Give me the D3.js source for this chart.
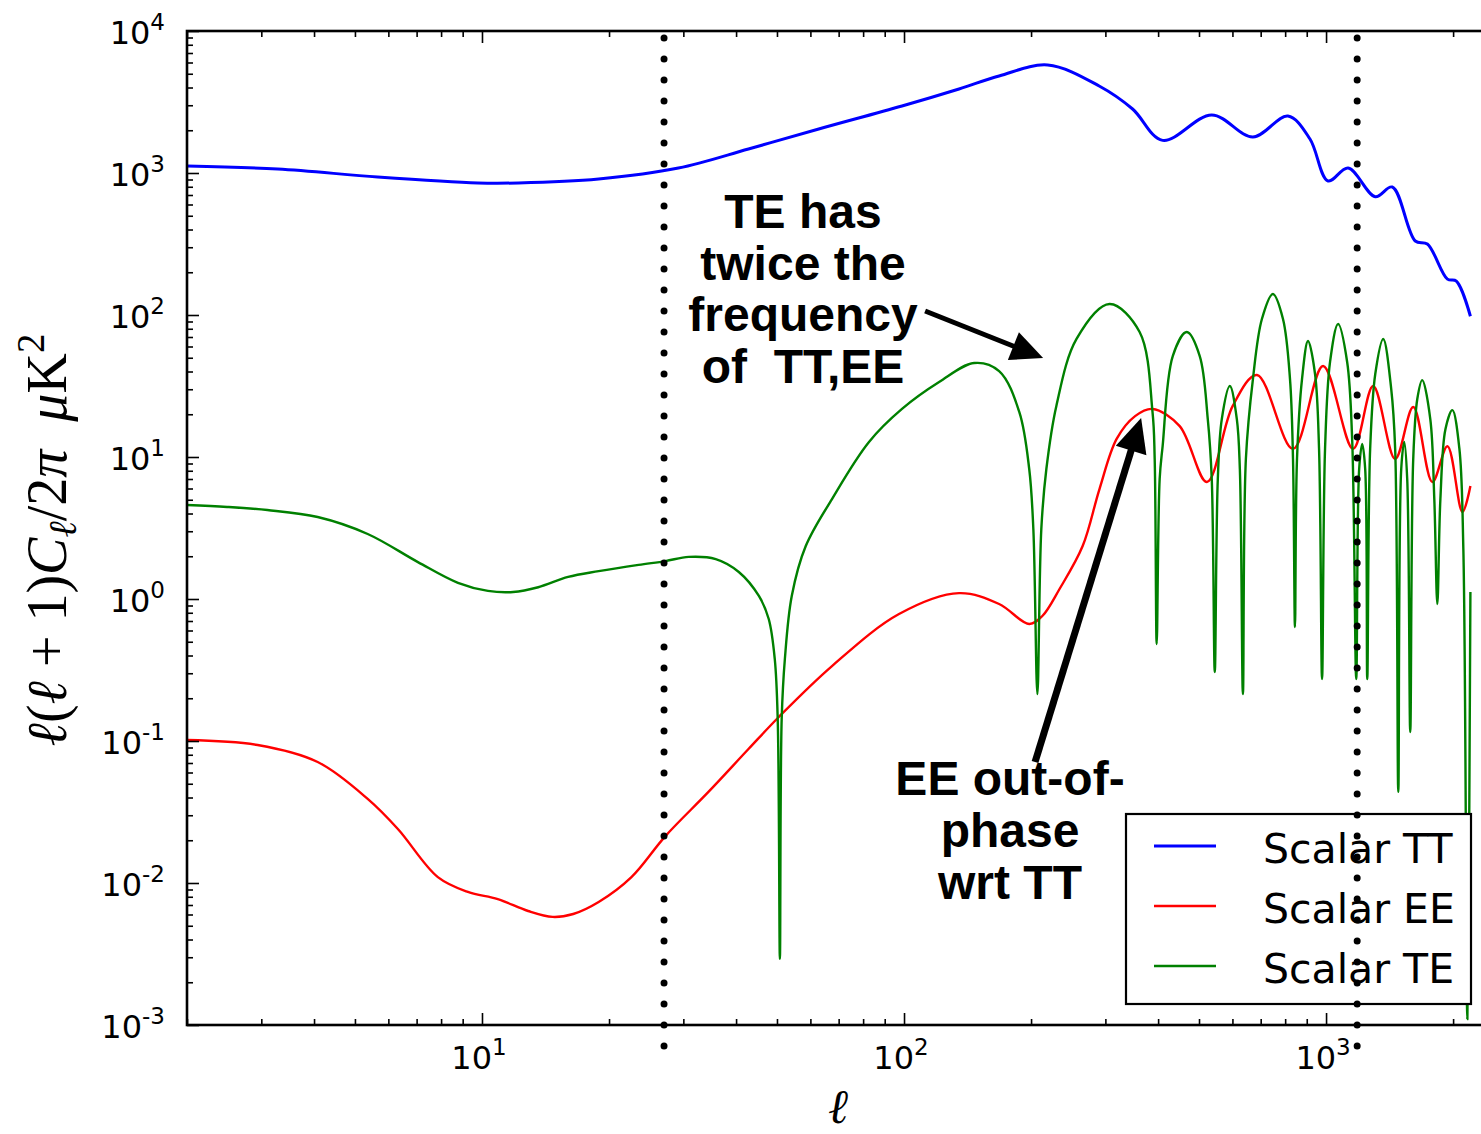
<!DOCTYPE html>
<html>
<head>
<meta charset="utf-8">
<script src="https://cdn.jsdelivr.net/npm/d3@7"></script>
<style>
  body { margin: 0; background: #ffffff; }
  svg { display: block; }
</style>
</head>
<body>
<svg id="chart" width="1481" height="1134"></svg>
<script>
// Scalar CMB angular power spectra, l(l+1)C_l/2pi in uK^2

// Temperature (TT)
const ttEll   = [2, 3.28, 5.66, 9.78, 12.2, 18.9, 29.2, 42.8, 62.8, 98.9, 135, 168, 219, 290, 348, 410, 536, 671, 812, 916, 1011, 1128, 1308, 1435, 1627, 1738, 1939, 2036, 2198];
const ttPower = [1120, 1067, 937, 851, 851, 907, 1083, 1476, 2042, 2965, 3907, 4820, 5763, 4100, 2823, 1697, 2561, 1793, 2519, 1735, 879, 1084, 681, 797, 332, 316, 179, 173, 98];

// E-mode polarisation (EE)
const eeEll   = [2, 2.94, 4.08, 5.36, 6.32, 7.86, 9.26, 10.9, 12.86, 14.7, 16.45, 18.9, 22.6, 27.2, 34.4, 42.8, 50.5, 67.5, 97.3, 135, 168, 198, 212.7, 233.6, 265, 290.5, 319, 352.8, 388, 450, 522, 601, 686, 835, 984, 1159, 1293, 1458, 1609, 1786, 1939, 2104, 2198];
const eePower = [0.1016, 0.0937, 0.0711, 0.0391, 0.0240, 0.0110, 0.00865, 0.0077, 0.00635, 0.00577, 0.00605, 0.00735, 0.0110, 0.0214, 0.0438, 0.0878, 0.1476, 0.337, 0.784, 1.10, 0.922, 0.667, 0.759, 1.176, 2.36, 5.95, 13.4, 19.4, 21.8, 16.5, 6.67, 22.9, 37.8, 11.4, 43.7, 11.4, 31.6, 9.68, 22.5, 6.67, 11.9, 4.10, 6.25];

// Temperature-polarisation cross spectrum (|TE|)
const teEll   = [2, 2.49, 3.10, 4.08, 5.36, 7.05, 8.77, 10.33, 11.85, 13.59,
                 16.0, 18.9, 23.5, 27.2, 30.9, 35.8, 40.6, 45.3, 47.8, 49.4,
                 50.2, 50.8, 51.3, 52.2, 54.2, 58.5, 67.5, 82.6, 98.9, 121.1,
                 146.6, 168, 187.6, 198, 202.5, 207, 211.5, 217.4, 229.6, 256.3,
                 306.9, 361.6, 388, 392.6, 396.9, 403.4, 410, 433.3, 467.7, 502,
                 524.5, 536, 544.9, 554, 566.2, 591.6, 614.6, 624.8, 635.3, 645.7,
                 671, 704.7, 748.4, 790.6, 821.4, 835, 844, 853.4, 877.1, 906.3,
                 941.7, 962.5, 978.4, 994.5, 1022, 1068, 1122, 1153, 1179, 1198,
                 1218, 1238, 1252, 1272, 1308, 1366, 1427, 1458, 1483, 1507,
                 1532, 1557, 1583, 1609, 1645, 1690, 1766, 1805, 1835, 1866,
                 1918, 1992, 2070, 2115, 2162, 2198];
const tePower = [4.59, 4.45, 4.23, 3.78, 2.87, 1.82, 1.30, 1.14, 1.12, 1.21,
                 1.43, 1.57, 1.74, 1.85, 1.98, 1.91, 1.55, 1.05, 0.723, 0.378,
                 0.143, 0.00292, 0.143, 0.378, 1.05, 2.36, 5.06, 12.76, 21.8, 33.7,
                 45.9, 40.3, 20.7, 8.23, 3.11, 0.214, 3.11, 8.23, 22.9, 67.8,
                 119.5, 75.9, 20.7, 9.68, 0.482, 7.0, 11.95, 51.4, 75.9, 51.4,
                 18.5, 7.0, 0.306, 7.0, 18.5, 31.6, 18.5, 8.23, 0.214, 9.68,
                 35.4, 93.7, 140.6, 93.7, 35.4, 9.68, 0.635, 9.68, 35.4, 65.6,
                 38.4, 11.4, 0.273, 11.4, 46.7, 86.4, 46.7, 13.4, 0.273, 8.23,
                 12.35, 8.23, 0.273, 11.4, 38.4, 67.8, 30.1, 11.4, 0.0438, 8.23,
                 12.76, 7.0, 0.1157, 9.68, 25.6, 34.8, 18.5, 5.06, 0.922, 5.06,
                 15.7, 21.4, 11.4, 2.25, 0.0011, 1.12];

const seriesNames  = ["Scalar TT", "Scalar EE", "Scalar TE"];
const seriesColors = ["#0000ff", "#ff0000", "#008000"];

// tick decades
const xTickExps = [1, 2, 3];
const yTickExps = [-3, -2, -1, 0, 1, 2, 3, 4];

// multipoles marked with dotted verticals
const markerEll = [27, 1185];

// annotation arrows: [l, power] start -> tip
const arrowFreq  = { from: [112.2, 106.7], to: [213.6, 49.8] };
const arrowPhase = { from: [204.4, 0.0711], to: [364.6, 18.8] };

const annFreqLines  = ["TE has", "twice the", "frequency", "of  TT,EE"];
const annPhaseLines = ["EE out-of-", "phase", "wrt TT"];

// ---------------------------------------------------------------
const svg = d3.select("#chart");
const plotL = 187, plotR = 1494, plotT = 31, plotB = 1025;

const x = d3.scaleLog().domain([2, 2500]).range([plotL, plotR]);
const y = d3.scaleLog().domain([1e-3, 1e4]).range([plotB, plotT]);

svg.append("defs").append("clipPath").attr("id", "plotArea")
  .append("rect").attr("x", plotL).attr("y", plotT)
  .attr("width", plotR - plotL).attr("height", plotB - plotT);

const line = d3.line()
  .x(d => x(d[0]))
  .y(d => y(d[1]))
  .curve(d3.curveCatmullRom.alpha(0.5));

const series = [
  { ell: ttEll, p: ttPower, width: 3 },
  { ell: eeEll, p: eePower, width: 2.4 },
  { ell: teEll, p: tePower, width: 2.4 }
];

const curves = svg.append("g").attr("clip-path", "url(#plotArea)");
series.forEach((s, i) => {
  curves.append("path")
    .datum(s.ell.map((l, k) => [l, s.p[k]]))
    .attr("d", line)
    .attr("fill", "none")
    .attr("stroke", seriesColors[i])
    .attr("stroke-width", s.width)
    .attr("stroke-linejoin", "round");
});

// ---- ticks (inward, on all sides) ----
const xMajor = xTickExps.map(e => Math.pow(10, e));
const xMinor = [];
for (let e = 0; e <= 3; e++) for (let m = 2; m <= 9; m++) {
  const v = m * Math.pow(10, e);
  if (v >= 2 && v <= 2500) xMinor.push(v);
}
const yMajor = yTickExps.map(e => Math.pow(10, e));
const yMinor = [];
for (let e = -3; e <= 3; e++) for (let m = 2; m <= 9; m++) yMinor.push(m * Math.pow(10, e));

function tickGroup(axis, transform) {
  const g = svg.append("g").attr("transform", transform).call(axis);
  g.select(".domain").remove();
  g.selectAll(".tick line").attr("stroke", "#000").attr("stroke-width", 1.6);
  return g;
}
tickGroup(d3.axisBottom(x).tickValues(xMajor).tickSize(-12).tickFormat(""), `translate(0,${plotB})`);
tickGroup(d3.axisBottom(x).tickValues(xMinor).tickSize(-6).tickFormat(""), `translate(0,${plotB})`);
tickGroup(d3.axisTop(x).tickValues(xMajor).tickSize(-12).tickFormat(""), `translate(0,${plotT})`);
tickGroup(d3.axisTop(x).tickValues(xMinor).tickSize(-6).tickFormat(""), `translate(0,${plotT})`);
tickGroup(d3.axisLeft(y).tickValues(yMajor).tickSize(-12).tickFormat(""), `translate(${plotL},0)`);
tickGroup(d3.axisLeft(y).tickValues(yMinor).tickSize(-6).tickFormat(""), `translate(${plotL},0)`);

// frame
svg.append("rect")
  .attr("x", plotL).attr("y", plotT)
  .attr("width", plotR - plotL).attr("height", plotB - plotT)
  .attr("fill", "none").attr("stroke", "#000").attr("stroke-width", 2.6);

// ---- tick labels (10^n) ----
const tickFont = "'DejaVu Sans', sans-serif";
yTickExps.forEach(e => {
  const t = svg.append("text")
    .attr("x", 165).attr("y", y(Math.pow(10, e)) + 12.5)
    .attr("text-anchor", "end")
    .attr("font-family", tickFont).attr("font-size", 32).attr("fill", "#000");
  t.append("tspan").text("10");
  t.append("tspan").attr("font-size", 23).attr("dy", -14).text(String(e));
});
xTickExps.forEach(e => {
  const t = svg.append("text")
    .attr("x", x(Math.pow(10, e)) - 3).attr("y", 1069)
    .attr("text-anchor", "middle")
    .attr("font-family", tickFont).attr("font-size", 32).attr("fill", "#000");
  t.append("tspan").text("10");
  t.append("tspan").attr("font-size", 23).attr("dy", -14).text(String(e));
});

// ---- axis titles ----
const mathFont = "'Liberation Serif', 'DejaVu Serif', serif";
svg.append("text")
  .attr("x", 838).attr("y", 1123)
  .attr("text-anchor", "middle")
  .attr("font-family", mathFont).attr("font-style", "italic")
  .attr("font-size", 48).attr("fill", "#000")
  .text("ℓ");

const yTitle = svg.append("text")
  .attr("transform", "translate(66,540) rotate(-90)")
  .attr("text-anchor", "middle")
  .attr("font-family", mathFont).attr("font-size", 56).attr("fill", "#000");
yTitle.append("tspan").attr("font-style", "italic").text("ℓ");
yTitle.append("tspan").text("(");
yTitle.append("tspan").attr("font-style", "italic").text("ℓ");
yTitle.append("tspan").text("\u2005+\u20051)");
yTitle.append("tspan").attr("font-style", "italic").text("C");
yTitle.append("tspan").attr("font-style", "italic").attr("font-size", 39).attr("dy", 10).text("ℓ");
yTitle.append("tspan").attr("dy", -10).text("/2");
yTitle.append("tspan").attr("font-style", "italic").text("π\u2002μ");
yTitle.append("tspan").text("K");
yTitle.append("tspan").attr("font-size", 39).attr("dy", -22).text("2");

// ---- legend ----
const legend = svg.append("g");
legend.append("rect")
  .attr("x", 1126).attr("y", 814).attr("width", 345).attr("height", 190)
  .attr("fill", "#fff").attr("stroke", "#000").attr("stroke-width", 2.2);
seriesNames.forEach((name, i) => {
  const ly = 846 + i * 60;
  legend.append("line")
    .attr("x1", 1154).attr("x2", 1216).attr("y1", ly).attr("y2", ly)
    .attr("stroke", seriesColors[i]).attr("stroke-width", i === 0 ? 3 : 2.6);
  legend.append("text")
    .attr("x", 1263).attr("y", ly + 17)
    .attr("font-family", tickFont).attr("font-size", 41).attr("fill", "#000")
    .text(name);
});

// ---- dotted marker lines ----
markerEll.forEach(l => {
  svg.append("line")
    .attr("x1", x(l)).attr("x2", x(l)).attr("y1", 38).attr("y2", 1050)
    .attr("stroke", "#000").attr("stroke-width", 7)
    .attr("stroke-linecap", "round").attr("stroke-dasharray", "0 21");
});

// ---- annotations ----
const annFont = "'Liberation Sans', Arial, sans-serif";
function annotation(lines, cx, firstBaseline, step) {
  const t = svg.append("text")
    .attr("text-anchor", "middle")
    .attr("font-family", annFont).attr("font-weight", "bold")
    .attr("font-size", 48).attr("fill", "#000");
  lines.forEach((s, i) => {
    t.append("tspan").attr("x", cx).attr("y", firstBaseline + i * step)
      .style("white-space", "pre").text(s);
  });
}
annotation(annFreqLines, 803, 228, 51.5);
annotation(annPhaseLines, 1010, 795, 52);

function arrow(a, shaft, headLen, headHalf) {
  const x0 = x(a.from[0]), y0 = y(a.from[1]);
  const x1 = x(a.to[0]),   y1 = y(a.to[1]);
  const dx = x1 - x0, dy = y1 - y0, L = Math.hypot(dx, dy);
  const ux = dx / L, uy = dy / L;
  const bx = x1 - ux * headLen, by = y1 - uy * headLen;
  svg.append("line")
    .attr("x1", x0).attr("y1", y0).attr("x2", bx + ux * 3).attr("y2", by + uy * 3)
    .attr("stroke", "#000").attr("stroke-width", shaft);
  svg.append("polygon")
    .attr("points", [
      [x1, y1],
      [bx - uy * headHalf, by + ux * headHalf],
      [bx + uy * headHalf, by - ux * headHalf]
    ].map(p => p.join(",")).join(" "))
    .attr("fill", "#000");
}
arrow(arrowFreq, 5, 32, 15);
arrow(arrowPhase, 7, 34, 16);
</script>
</body>
</html>
